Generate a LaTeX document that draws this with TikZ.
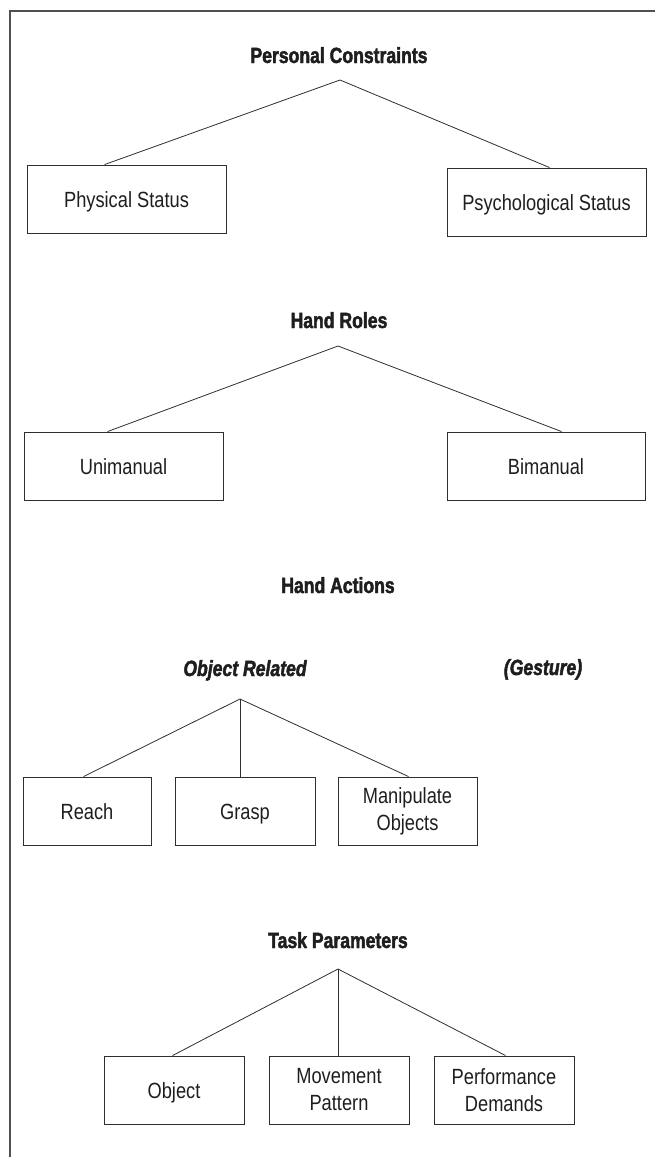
\documentclass[tikz,border=0pt]{standalone}
\usepackage{fontspec}
\newfontfamily\boxfont[FakeStretch=0.83]{Liberation Sans}
\newfontfamily\headfont[FakeStretch=0.8,FakeBold=2]{Liberation Sans}
\definecolor{ink}{HTML}{1E1E1E}
\definecolor{rule}{HTML}{2E2E2E}
\definecolor{framec}{HTML}{505050}
\begin{document}
\begin{tikzpicture}[x=1pt,y=-1pt,
  box/.style={draw=rule,line width=0.9pt,rectangle,inner sep=0pt,minimum height=68pt,
    align=center,text=ink,font=\boxfont\fontsize{22}{27}\selectfont},
  one/.style={text height=16pt,text depth=0pt},
  head/.style={text=ink,inner sep=0pt,anchor=base,font=\headfont\bfseries\fontsize{22}{26}\selectfont},
  subhead/.style={text=ink,inner sep=0pt,anchor=base,font=\headfont\bfseries\itshape\fontsize{22}{26}\selectfont},
  link/.style={draw=rule,line width=0.8pt},
  frame/.style={draw=framec,line width=1.7pt}]
\useasboundingbox (0,0) rectangle (655,1157);
% frame
\coordinate (fr1) at (655,11);
\coordinate (fr2) at (10,11);
\coordinate (fr3) at (10,1157);
\draw[frame] (fr1) -- (fr2) -- (fr3);
% Personal constraints
\node[head] (pc) at (339,63) {Personal Constraints};
\coordinate (pca) at (340,80);
\node[box,one,minimum width=199pt] (phys) at (126.5,199) {Physical Status};
\node[box,one,minimum width=199pt] (psych) at (546.5,202) {Psychological Status};
\draw[link] ([xshift=78pt]phys.north west) -- (pca) -- ([xshift=103pt]psych.north west);
% Hand roles
\node[head] (hr) at (339,328) {Hand Roles};
\coordinate (hra) at (338,346);
\node[box,one,minimum width=199pt] (uni) at (123.5,466) {Unimanual};
\node[box,one,minimum width=198pt] (bi) at (546,466) {Bimanual};
\draw[link] ([xshift=84pt]uni.north west) -- (hra) -- ([xshift=115pt]bi.north west);
% Hand actions
\node[head] (ha) at (338,593) {Hand Actions};
\node[subhead] (obr) at (245,676) {Object Related};
\node[subhead] (ges) at (543,675) {(Gesture)};
\coordinate (haa) at (240,699);
\node[box,one,minimum width=128pt] (reach) at (87,811) {Reach};
\node[box,one,minimum width=140pt] (grasp) at (245,811) {Grasp};
\node[box,minimum width=139pt] (manip) at (407.5,811) {Manipulate\\Objects};
\draw[link] ([xshift=61pt]reach.north west) -- (haa) -- ([xshift=71pt]manip.north west);
\draw[link] (haa) -- (haa |- grasp.north);
% Task parameters
\node[head] (tp) at (338,948) {Task Parameters};
\coordinate (tpa) at (338,969);
\node[box,one,minimum width=140pt] (obj) at (174,1090) {Object};
\node[box,minimum width=140pt] (mov) at (339,1090) {Movement\\Pattern};
\node[box,minimum width=140pt] (perf) at (504,1090) {Performance\\Demands};
\draw[link] ([xshift=69pt]obj.north west) -- (tpa) -- ([xshift=72pt]perf.north west);
\draw[link] (tpa) -- (tpa |- mov.north);
\end{tikzpicture}
\end{document}
